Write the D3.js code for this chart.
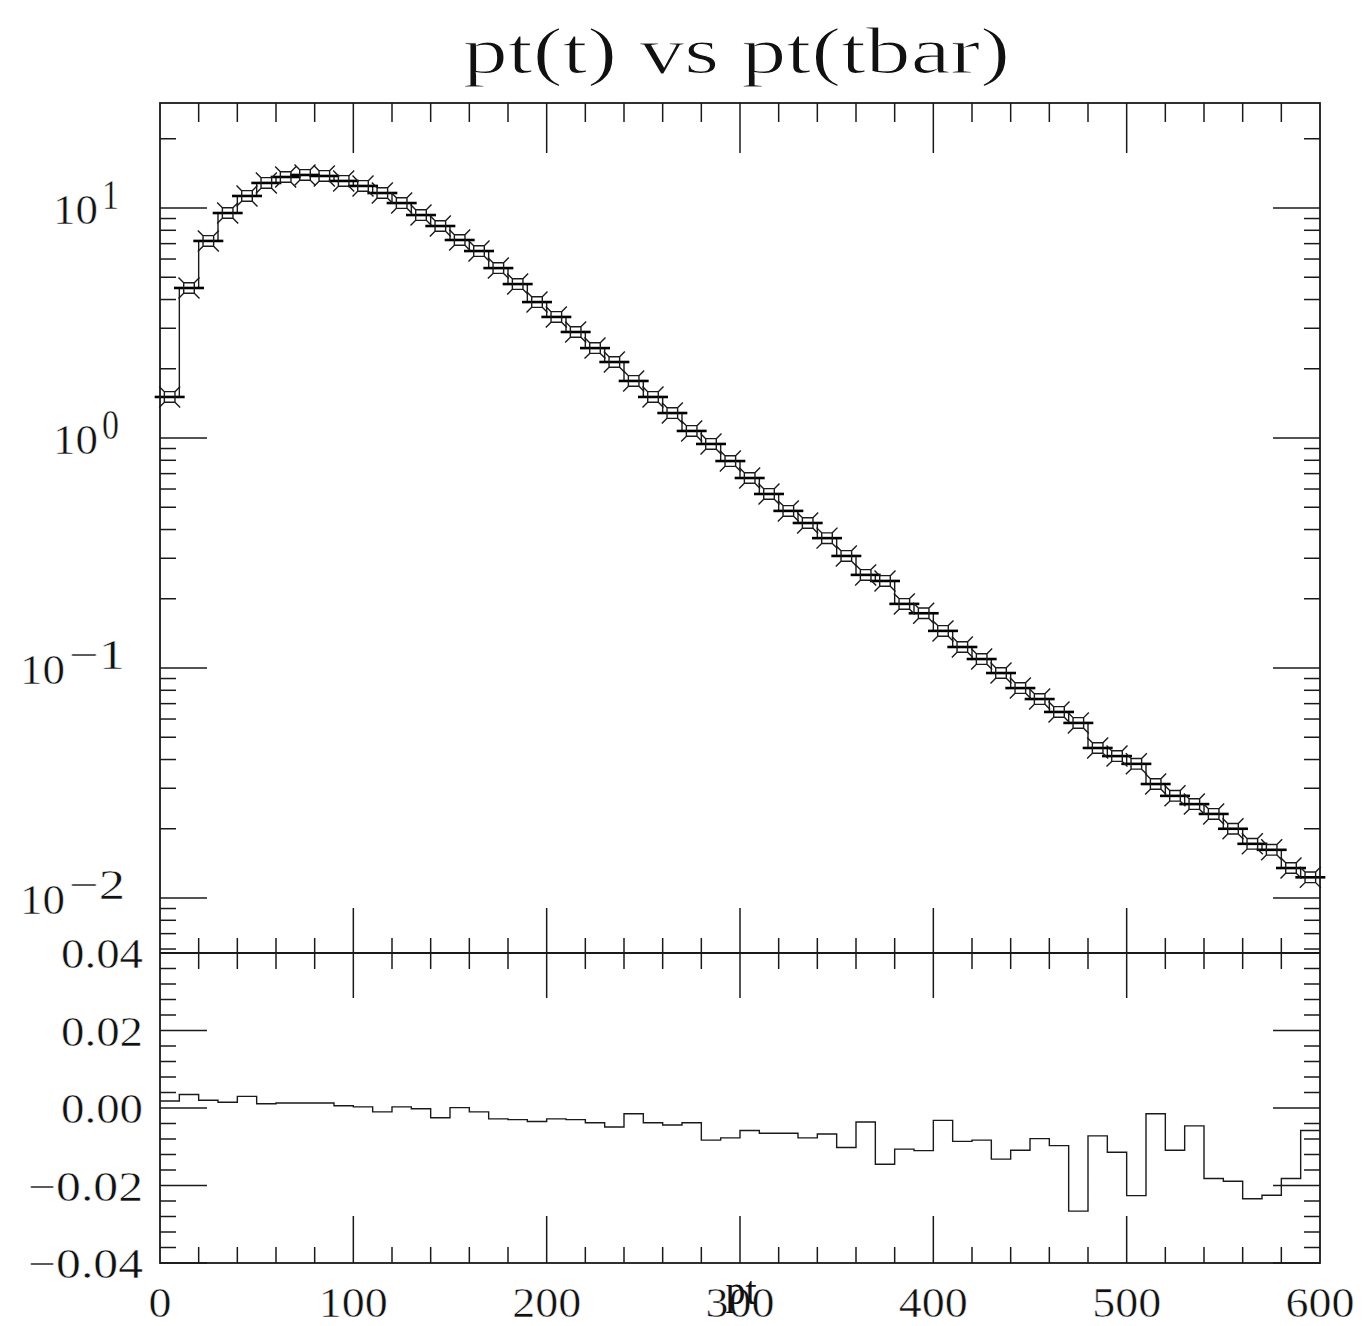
<!DOCTYPE html>
<html>
<head>
<meta charset="utf-8">
<script src="https://cdn.jsdelivr.net/npm/d3@7"></script>
<style>
  html, body { margin: 0; padding: 0; background: #fff; }
  svg { display: block; }
  text { font-family: "Liberation Serif", "DejaVu Serif", serif; fill: #111; stroke: #fff; stroke-width: 0.5px; }
</style>
</head>
<body>
<svg id="chart" width="1367" height="1326"></svg>
<script>
// ---------------- data ----------------
const binEdges = d3.range(0, 601, 10);            // 60 bins of width 10
const ptValues = [
  1.508, 4.49, 7.19, 9.51, 11.28, 12.85, 13.64, 13.92, 13.78, 13.11,
  12.47, 11.62, 10.51, 9.32, 8.35, 7.26, 6.50, 5.48, 4.67, 3.90,
  3.36, 2.89, 2.46, 2.14, 1.77, 1.508, 1.284, 1.073, 0.942, 0.794,
  0.670, 0.571, 0.482, 0.427, 0.367, 0.307, 0.254, 0.239, 0.190, 0.173,
  0.145, 0.1234, 0.1094, 0.0951, 0.0818, 0.0733, 0.0644, 0.0577, 0.0449, 0.0414,
  0.0383, 0.0313, 0.0278, 0.0256, 0.0232, 0.0200, 0.0172, 0.0162, 0.0135, 0.0123
];
const diffValues = [
  0.0018, 0.0035, 0.0020, 0.0015, 0.0030, 0.0011, 0.0013, 0.0013, 0.0013, 0.0006,
  0.0003, -0.0010, 0.0003, -0.0002, -0.0025, 0.0001, -0.0010, -0.0028, -0.0030, -0.0035,
  -0.0028, -0.0030, -0.0038, -0.0049, -0.0015, -0.0038, -0.0044, -0.0038, -0.0083, -0.0077,
  -0.0058, -0.0065, -0.0065, -0.0077, -0.0067, -0.0102, -0.0036, -0.0145, -0.0106, -0.0110,
  -0.0032, -0.0086, -0.0083, -0.0132, -0.0109, -0.0079, -0.0097, -0.0266, -0.0072, -0.0114,
  -0.0226, -0.0015, -0.0109, -0.0046, -0.0182, -0.0189, -0.0234, -0.0225, -0.0182, -0.0058
];
const xMajorTicks = [0, 100, 200, 300, 400, 500, 600];
const xMinorTicks = d3.range(0, 601, 20);
const xTickLabels = ["0", "100", "200", "300", "400", "500", "600"];
const logDecades = [1, 0, -1, -2];
const diffMajorTicks = [0.04, 0.02, 0.00, -0.02, -0.04];
const diffTickLabels = ["0.04", "0.02", "0.00", "\u22120.02", "\u22120.04"];
const diffMinorTicks = d3.range(-0.04, 0.0401, 0.004);
const titleText = "pt(t) vs pt(tbar)";
const xLabelText = "pt";

// ---------------- layout ----------------
const L = 160, R = 1320, T = 103, MID = 953, B = 1263;
const x = d3.scaleLinear().domain([0, 600]).range([L, R]);
const yTop = d3.scaleLog().domain([Math.pow(10, (438 - 953) / 230), Math.pow(10, (438 - 103) / 230)]).range([MID, T]);
const yBot = d3.scaleLinear().domain([-0.04, 0.04]).range([B, MID]);

const svg = d3.select("#chart");
const ink = "#1a1a1a";

const bins = ptValues.map((v, i) => ({ x0: binEdges[i], x1: binEdges[i + 1], v, d: diffValues[i] }));

function stepPath(data, yScale, key) {
  let p = "";
  data.forEach((b, i) => {
    const yy = yScale(b[key]);
    p += (i === 0 ? "M" : "L") + x(b.x0) + "," + yy + "L" + x(b.x1) + "," + yy;
  });
  return p;
}

function labelWidth(str) {
  let w = 0;
  for (const c of str) w += (c === "." ? 13 : c === "\u2212" ? 33 : 23);
  return w;
}

// ---------------- top panel ----------------
const gTop = svg.append("g");
gTop.append("path")
  .attr("d", stepPath(bins, yTop, "v"))
  .attr("fill", "none").attr("stroke", ink).attr("stroke-width", 1.4);

gTop.selectAll("line.hbar").data(bins).enter().append("line")
  .attr("class", "hbar")
  .attr("x1", d => x((d.x0 + d.x1) / 2) - 15)
  .attr("x2", d => x((d.x0 + d.x1) / 2) + 15)
  .attr("y1", d => yTop(d.v)).attr("y2", d => yTop(d.v))
  .attr("stroke", "#000").attr("stroke-width", 2.6);

const s = 5.3, r = 10.5;
const markerPath = `M${-s},${-s}H${s}V${s}H${-s}Z` +
  `M${-s},${-s}L${-r},${-r}M${s},${-s}L${r},${-r}M${s},${s}L${r},${r}M${-s},${s}L${-r},${r}`;
gTop.selectAll("path.mk").data(bins).enter().append("path")
  .attr("class", "mk")
  .attr("transform", d => `translate(${x((d.x0 + d.x1) / 2)},${yTop(d.v)})`)
  .attr("d", markerPath)
  .attr("fill", "none").attr("stroke", ink).attr("stroke-width", 1.4);

// ---------------- bottom panel ----------------
svg.append("path")
  .attr("d", stepPath(bins, yBot, "d"))
  .attr("fill", "none").attr("stroke", ink).attr("stroke-width", 1.4);

// ---------------- frames & ticks ----------------
const axisG = svg.append("g").attr("stroke", ink).attr("stroke-width", 1.5).attr("fill", "none");
axisG.append("rect").attr("x", L).attr("y", T).attr("width", R - L).attr("height", B - T).attr("stroke-width", 1.8);
axisG.append("line").attr("x1", L).attr("x2", R).attr("y1", MID).attr("y2", MID).attr("stroke-width", 1.8);

function vTick(xx, y1, y2) { axisG.append("line").attr("x1", xx).attr("x2", xx).attr("y1", y1).attr("y2", y2); }
function hTick(yy, x1, x2) { axisG.append("line").attr("x1", x1).attr("x2", x2).attr("y1", yy).attr("y2", yy); }

xMinorTicks.forEach(t => {
  if (t === 0 || t === 600) return;
  const major = xMajorTicks.includes(t);
  const xx = x(t);
  vTick(xx, T, T + (major ? 50 : 19));
  vTick(xx, MID - (major ? 45 : 15), MID);
  vTick(xx, MID, MID + (major ? 45 : 16));
  vTick(xx, B - (major ? 47 : 16), B);
});

const [lo, hi] = yTop.domain();
d3.range(-3, 2).forEach(e => {
  for (let m = 1; m <= 9; m++) {
    const v = m * Math.pow(10, e);
    if (v < lo || v > hi) continue;
    const yy = yTop(v);
    const len = m === 1 ? 47 : 16;
    hTick(yy, L, L + len);
    hTick(yy, R - len, R);
  }
});

diffMinorTicks.forEach(v => {
  const isMajor = diffMajorTicks.some(m => Math.abs(m - v) < 1e-6);
  const yy = yBot(v);
  const len = isMajor ? 47 : 16;
  hTick(yy, L, L + len);
  hTick(yy, R - len, R);
});

// ---------------- labels ----------------
const fs = 42;
svg.selectAll("text.xl").data(xMajorTicks).enter().append("text")
  .attr("class", "xl")
  .attr("x", d => x(d)).attr("y", 1317)
  .attr("text-anchor", "middle").attr("font-size", fs)
  .attr("textLength", (d, i) => labelWidth(xTickLabels[i]))
  .attr("lengthAdjust", "spacingAndGlyphs")
  .text((d, i) => xTickLabels[i]);

logDecades.forEach(e => {
  const yy = yTop(Math.pow(10, e));
  const expStr = e < 0 ? "\u2212" + (-e) : String(e);
  const x0 = e < 0 ? 20 : 53;
  svg.append("text").attr("x", x0).attr("y", yy + 16)
    .attr("font-size", fs).attr("textLength", 45).attr("lengthAdjust", "spacingAndGlyphs")
    .text("10");
  svg.append("text").attr("x", x0 + 49).attr("y", yy + 1)
    .attr("font-size", fs)
    .attr("textLength", e < 0 ? 56 : 17).attr("lengthAdjust", "spacingAndGlyphs")
    .text(expStr);
});

svg.selectAll("text.yl").data(diffMajorTicks).enter().append("text")
  .attr("class", "yl")
  .attr("x", 143).attr("y", d => yBot(d) + 15)
  .attr("text-anchor", "end").attr("font-size", fs)
  .attr("textLength", (d, i) => labelWidth(diffTickLabels[i]))
  .attr("lengthAdjust", "spacingAndGlyphs")
  .text((d, i) => diffTickLabels[i]);

svg.append("text").attr("x", 736.5).attr("y", 73)
  .attr("text-anchor", "middle").attr("font-size", 66)
  .style("stroke-width", "1.1px")
  .attr("textLength", 547).attr("lengthAdjust", "spacingAndGlyphs")
  .text(titleText);

svg.append("text").attr("x", 741).attr("y", 1304)
  .attr("text-anchor", "middle").attr("font-size", 40)
  .style("stroke-width", "0px")
  .text(xLabelText);
</script>
</body>
</html>
